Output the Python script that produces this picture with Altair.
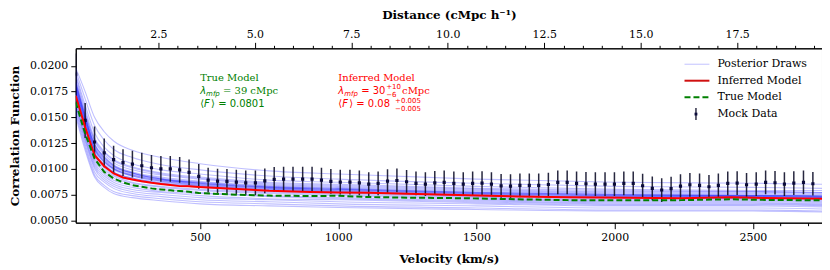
import altair as alt
import pandas as pd

# ---------------- data ----------------
VELOCITY = [50, 84, 118, 153, 187, 221, 255, 289, 324, 358,
            392, 426, 460, 495, 529, 563, 597, 631, 665, 700,
            734, 768, 802, 836, 871, 905, 939, 973, 1007, 1042,
            1076, 1110, 1144, 1178, 1212, 1247, 1281, 1315, 1349, 1383,
            1418, 1452, 1486, 1520, 1554, 1589, 1623, 1657, 1691, 1725,
            1760, 1794, 1828, 1862, 1896, 1930, 1965, 1999, 2033, 2067,
            2101, 2136, 2170, 2204, 2238, 2272, 2307, 2341, 2375, 2409,
            2443, 2477, 2512, 2546, 2580, 2614, 2648, 2683, 2717]
MOCK = [0.0192, 0.0147, 0.0126, 0.01155, 0.0109, 0.0106, 0.01045, 0.0103, 0.0101, 0.0100,
        0.0100, 0.0099, 0.00966, 0.00926, 0.0089, 0.0088, 0.00878, 0.00871, 0.00864, 0.00864,
        0.00883, 0.00897, 0.0090, 0.0090, 0.0090, 0.0090, 0.0089, 0.00878, 0.00871, 0.00871,
        0.00864, 0.00852, 0.00858, 0.00881, 0.00887, 0.00874, 0.00858, 0.00852, 0.00864, 0.00868,
        0.00858, 0.00852, 0.00858, 0.00861, 0.00852, 0.00835, 0.00832, 0.00839, 0.00839, 0.00839,
        0.00848, 0.00868, 0.00868, 0.00858, 0.00855, 0.00852, 0.00852, 0.00852, 0.00858, 0.00858,
        0.00836, 0.0081, 0.00794, 0.00807, 0.00832, 0.00845, 0.00839, 0.00826, 0.00839, 0.00858,
        0.00861, 0.00845, 0.00852, 0.00868, 0.00865, 0.00852, 0.00861, 0.00868, 0.00855]
MOCK_ERR = [0.0020, 0.0017, 0.0015, 0.0014, 0.00135, 0.0013, 0.0013, 0.00125, 0.00125, 0.00125,
            0.00125, 0.00125, 0.00125, 0.0012, 0.0012, 0.0012, 0.0012, 0.0012, 0.0012, 0.0012,
            0.0012, 0.0012, 0.0012, 0.0012, 0.0012, 0.0012, 0.0012, 0.0012, 0.0012, 0.0012,
            0.0012, 0.00115, 0.00115, 0.00115, 0.00115, 0.00115, 0.00115, 0.00115, 0.00115, 0.00115,
            0.00115, 0.00115, 0.00115, 0.00115, 0.00115, 0.00115, 0.00115, 0.00115, 0.00115, 0.00115,
            0.00115, 0.00115, 0.00115, 0.00115, 0.00115, 0.00115, 0.00115, 0.00115, 0.00115, 0.00115,
            0.00115, 0.00115, 0.00115, 0.00115, 0.00115, 0.00115, 0.00115, 0.00115, 0.00115, 0.00115,
            0.00115, 0.00115, 0.00115, 0.00115, 0.00115, 0.00115, 0.00115, 0.00115, 0.00115]

MODEL_V = [50, 84, 118, 153, 187, 221, 255, 289, 324, 358, 392, 426, 460, 495,
           600, 750, 900, 1000, 1110, 1250, 1470, 1650, 1830, 2050, 2240, 2420, 2550, 2750]
INFERRED = [0.0171, 0.01405, 0.01132, 0.01025, 0.00955, 0.00916, 0.00897, 0.0088, 0.00864, 0.00852,
            0.00842, 0.00832, 0.0083, 0.00823, 0.00808, 0.00787, 0.00775, 0.0077, 0.00768, 0.00758,
            0.00743, 0.00732, 0.00723, 0.00718, 0.00714, 0.00724, 0.00716, 0.0071]
TRUE = [0.01646, 0.0134, 0.0110, 0.0097, 0.00907, 0.00868, 0.00842, 0.00826, 0.0081, 0.0080,
        0.00791, 0.00784, 0.00777, 0.00765, 0.00752, 0.0074, 0.00736, 0.00738, 0.00726, 0.0072,
        0.00714, 0.00704, 0.00696, 0.00694, 0.00696, 0.00704, 0.00698, 0.00694]

# posterior draws (values x 1e-4) on a coarse velocity grid
DRAW_V = [50, 84, 118, 153, 187, 255, 360, 500, 750, 1000, 1500, 2000, 2500, 2750]
DRAWS = [
    [198, 175, 150, 136, 127, 118, 111, 105, 98, 95, 90, 87, 86, 85],
    [195, 168, 142, 128, 119, 111, 104, 99, 93, 90, 86, 83, 82, 81],
    [192, 162, 135, 121, 113, 105, 99, 95, 89, 87, 83, 80, 79, 79],
    [190, 158, 130, 117, 109, 102, 96, 92, 87, 85, 81, 79, 78, 77],
    [187, 155, 127, 114, 106, 99, 94, 90, 85, 83, 79, 77, 77, 76],
    [185, 152, 124, 112, 104, 97, 92, 88, 84, 82, 78, 76, 76, 75],
    [182, 150, 122, 110, 102, 96, 91, 87, 83, 81, 77, 75, 75, 74],
    [180, 148, 120, 108, 100, 94, 89, 86, 82, 80, 76, 74, 74, 73],
    [178, 146, 118, 106, 99, 93, 88, 85, 81, 79, 75, 73, 73, 72],
    [176, 144, 116, 104, 97, 91, 87, 84, 80, 78, 74, 72, 72, 71],
    [174, 142, 114, 103, 96, 90, 86, 83, 79, 77, 73, 71, 71, 70],
    [172, 140, 112, 101, 94, 89, 85, 82, 78, 76, 72, 70, 70, 69],
    [170, 138, 110, 99, 93, 87, 83, 80, 77, 75, 71, 69, 69, 68],
    [168, 136, 108, 97, 91, 86, 82, 79, 76, 74, 70, 68, 68, 67],
    [166, 133, 106, 95, 89, 84, 80, 77, 74, 72, 69, 67, 67, 66],
    [164, 131, 104, 93, 87, 82, 78, 76, 73, 71, 68, 66, 66, 65],
    [162, 129, 102, 91, 85, 80, 77, 74, 71, 70, 67, 65, 65, 64],
    [160, 127, 100, 89, 83, 78, 75, 72, 70, 68, 66, 64, 64, 63],
    [157, 124, 97, 87, 81, 76, 73, 70, 68, 66, 64, 62, 62, 61],
    [154, 121, 94, 84, 78, 74, 71, 68, 66, 64, 62, 60, 60, 59],
    [151, 118, 92, 82, 76, 72, 69, 66, 64, 62.5, 60.5, 59, 59, 58],
    [183, 153, 128, 116, 108, 101, 95, 91, 86, 84, 80, 78, 78, 77],
    [179, 149, 123, 111, 103, 96, 90, 86, 82, 80, 76, 74, 74, 73],
    [175, 145, 119, 107, 100, 93, 88, 84, 80, 78, 75, 73, 73, 72],
    [184, 151, 124, 111, 103, 96, 90, 87, 83, 81, 77, 75, 74, 74],
    [177, 146, 119, 107, 100, 94, 89, 85, 81, 79, 76, 74, 73, 72],
    [173, 141, 115, 104, 97, 91, 86, 83, 79, 77, 74, 72, 71, 71],
    [181, 149, 121, 109, 101, 95, 90, 86, 82, 80, 77, 75, 74, 73],
]

X_DOMAIN = [50, 2750]
Y_DOMAIN = [0.00477, 0.0217]
KMS_PER_CMPC = 139.6          # velocity -> comoving distance (top axis)
BOTTOM_TICKS = [500, 1000, 1500, 2000, 2500]
BOTTOM_MINOR = [100, 200, 300, 400, 600, 700, 800, 900, 1100, 1200, 1300, 1400, 1600, 1700,
                1800, 1900, 2100, 2200, 2300, 2400, 2600, 2700]
TOP_TICKS = [2.5, 5.0, 7.5, 10.0, 12.5, 15.0, 17.5]
TOP_MINOR = [0.5, 1.0, 1.5, 2.0, 3.0, 3.5, 4.0, 4.5, 5.5, 6.0, 6.5, 7.0, 8.0, 8.5, 9.0, 9.5,
             10.5, 11.0, 11.5, 12.0, 13.0, 13.5, 14.0, 14.5, 15.5, 16.0, 16.5, 17.0, 18.0,
             18.5, 19.0, 19.5]
Y_TICKS = [0.005, 0.0075, 0.01, 0.0125, 0.015, 0.0175, 0.02]

SERIF = "DejaVu Serif, Liberation Serif, serif"
SANS = "DejaVu Sans, Liberation Sans, sans-serif"
W, H = 749, 175
GREEN = "#008000"
RED = "#ff0000"

# ---------------- scales / shared encodings ----------------
xs = alt.Scale(domain=X_DOMAIN, nice=False, zero=False)
ys = alt.Scale(domain=Y_DOMAIN, nice=False, zero=False)
x_axis = alt.Axis(values=BOTTOM_TICKS, format="d", title="Velocity (km/s)", tickSize=6,
                  labelPadding=3, titlePadding=11, domain=True)
y_axis = alt.Axis(values=Y_TICKS, format=".4f", title="Correlation Function", tickSize=5,
                  labelPadding=3, titlePadding=8)
X = alt.X("v:Q", scale=xs, axis=x_axis)
Y = alt.Y("val:Q", scale=ys, axis=y_axis)

draw_rows = []
for k, row in enumerate(DRAWS):
    for v, d in zip(DRAW_V, row):
        draw_rows.append({"draw": k, "v": v, "val": d * 1e-4})
draws_df = pd.DataFrame(draw_rows)

mock_df = pd.DataFrame({"v": VELOCITY, "val": MOCK, "err": MOCK_ERR})
mock_df["lo"] = mock_df["val"] - mock_df["err"]
mock_df["hi"] = mock_df["val"] + mock_df["err"]

inf_df = pd.DataFrame({"v": MODEL_V, "val": INFERRED})
true_df = pd.DataFrame({"v": MODEL_V, "val": TRUE})

draws = alt.Chart(draws_df).mark_line(
    color="#0000ff", opacity=0.25, strokeWidth=1.1, interpolate="monotone", clip=True
).encode(x=X, y=Y, detail="draw:N")

errbars = alt.Chart(mock_df).mark_rule(color="#10102a", strokeWidth=1.5, opacity=0.9, clip=True).encode(
    x=X, y=alt.Y("lo:Q", scale=ys, axis=y_axis), y2="hi:Q"
)
points = alt.Chart(mock_df).mark_square(size=10, color="#0b0b3b", opacity=1, clip=True).encode(x=X, y=Y)

inf_line = alt.Chart(inf_df).mark_line(color=RED, strokeWidth=2, clip=True).encode(x=X, y=Y)
true_line = alt.Chart(true_df).mark_line(color=GREEN, strokeWidth=2, strokeDash=[6, 3], clip=True).encode(x=X, y=Y)

one = pd.DataFrame({"a": [0]})


def label(text, v, val, dx=0, dy=0, size=10, color="black", font=SERIF, style="normal"):
    return alt.Chart(one).mark_text(
        text=text, align="left", baseline="middle", dx=dx, dy=dy, fontSize=size,
        color=color, font=font, fontStyle=style
    ).encode(x=alt.datum(v, scale=xs, axis=x_axis), y=alt.datum(val, scale=ys, axis=y_axis))


L1, L2, L3 = 0.01883, 0.01755, 0.01634
annots = [
    label("True Model", 500, L1, color=GREEN),
    label("λ", 500, L2, color=GREEN, font=SANS, style="italic"),
    label("mfp", 500, L2, dx=6, dy=3, size=7, color=GREEN, font=SANS, style="italic"),
    label("= 39 cMpc", 500, L2, dx=23, color=GREEN),
    label("⟨", 500, L3, color=GREEN, font=SANS),
    label("F", 500, L3, dx=4, color=GREEN, font=SANS, style="italic"),
    label("⟩ = 0.0801", 500, L3, dx=11, color=GREEN, font=SANS),

    label("Inferred Model", 1000, L1, color=RED),
    label("λ", 1000, L2, color=RED, font=SANS, style="italic"),
    label("mfp", 1000, L2, dx=6, dy=3, size=7, color=RED, font=SANS, style="italic"),
    label("= 30", 1000, L2, dx=23, color=RED, font=SANS),
    label("+10", 1000, L2, dx=48, dy=-4, size=7, color=RED, font=SANS),
    label("−6", 1000, L2, dx=48, dy=4, size=7, color=RED, font=SANS),
    label("cMpc", 1000, L2, dx=64, color=RED),
    label("⟨", 1000, L3, color=RED, font=SANS),
    label("F", 1000, L3, dx=4, color=RED, font=SANS, style="italic"),
    label("⟩ = 0.08", 1000, L3, dx=11, color=RED, font=SANS),
    label("+0.005", 1000, L3, dx=57, dy=-3, size=7, color=RED, font=SANS),
    label("−0.005", 1000, L3, dx=57, dy=5, size=7, color=RED, font=SANS),
]

# ---------------- manual legend (pixel positions inside the plot) ----------------
LEG_X0, LEG_X1, LEG_TX = 611, 636, 644
ROWS = [16, 32.5, 49, 66]
leg = []
leg.append(alt.Chart(one).mark_rule(color="#ccccff", strokeWidth=1.2).encode(
    x=alt.value(LEG_X0), x2=alt.value(LEG_X1), y=alt.value(ROWS[0])))
leg.append(alt.Chart(one).mark_rule(color="#d01010", strokeWidth=2).encode(
    x=alt.value(LEG_X0), x2=alt.value(LEG_X1), y=alt.value(ROWS[1])))
leg.append(alt.Chart(one).mark_rule(color=GREEN, strokeWidth=2, strokeDash=[6, 3]).encode(
    x=alt.value(LEG_X0), x2=alt.value(LEG_X1), y=alt.value(ROWS[2])))
leg.append(alt.Chart(one).mark_rule(color="#10102a", strokeWidth=1.3).encode(
    x=alt.value(622.5), y=alt.value(ROWS[3] - 6), y2=alt.value(ROWS[3] + 6)))
leg.append(alt.Chart(one).mark_square(size=8, color="#0b0b3b", opacity=1).encode(
    x=alt.value(622.5), y=alt.value(ROWS[3])))
for txt, ry in zip(["Posterior Draws", "Inferred Model", "True Model", "Mock Data"], ROWS):
    leg.append(alt.Chart(one).mark_text(text=txt, align="left", baseline="middle", font=SERIF,
                                        fontSize=11, color="black").encode(
        x=alt.value(LEG_TX), y=alt.value(ry)))

data_layer = alt.layer(draws, errbars, points, inf_line, true_line, *annots, *leg)

# ---------------- extra axes: minor ticks and the top distance axis ----------------
bmin = alt.Chart(pd.DataFrame({"m": BOTTOM_MINOR})).mark_point(opacity=0).encode(
    x=alt.X("m:Q", scale=alt.Scale(domain=X_DOMAIN, nice=False, zero=False),
            axis=alt.Axis(orient="bottom", values=BOTTOM_MINOR, labels=False, tickSize=3,
                          domain=False, title=None, grid=False)))

TOP_DOMAIN = [X_DOMAIN[0] / KMS_PER_CMPC, X_DOMAIN[1] / KMS_PER_CMPC]
tmaj = alt.Chart(pd.DataFrame({"d": TOP_TICKS})).mark_point(opacity=0).encode(
    x=alt.X("d:Q", scale=alt.Scale(domain=TOP_DOMAIN, nice=False, zero=False),
            axis=alt.Axis(orient="top", values=TOP_TICKS, format=".1f", tickSize=6, labelPadding=3,
                          title="Distance (cMpc h⁻¹)", titlePadding=7, grid=False)))
tmin = alt.Chart(pd.DataFrame({"d": TOP_MINOR})).mark_point(opacity=0).encode(
    x=alt.X("d:Q", scale=alt.Scale(domain=TOP_DOMAIN, nice=False, zero=False),
            axis=alt.Axis(orient="top", values=TOP_MINOR, labels=False, tickSize=3,
                          domain=False, title=None, grid=False)))

chart = alt.layer(data_layer, bmin, tmaj, tmin).resolve_scale(x="independent").properties(
    width=W, height=H, padding={"left": 0, "top": 0, "right": 0, "bottom": 0}
).configure_view(stroke="black", strokeWidth=1).configure_axis(
    grid=False, domainColor="black", tickColor="black", labelColor="black", titleColor="black",
    labelFont=SERIF, labelFontSize=11, titleFont=SERIF, titleFontSize=12, titleFontWeight="bold",
    domainWidth=1, tickWidth=1
)

chart.save("out.html", embed_options={"renderer": "svg", "actions": False})
